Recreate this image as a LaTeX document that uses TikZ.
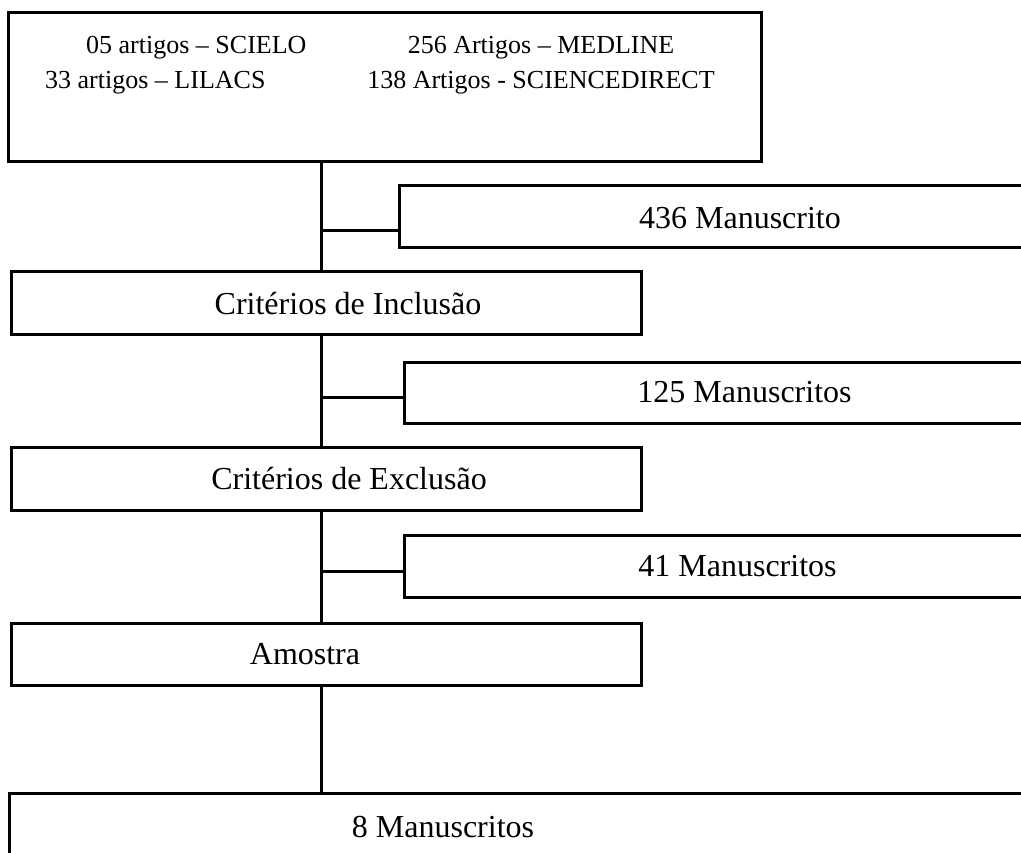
\documentclass[tikz,border=0pt]{standalone}
\usepackage{fontspec}
\setmainfont{Liberation Serif}
\usepackage{tikz}
\usetikzlibrary{positioning,calc}
\newcommand\bigtxt{\fontsize{32}{38}\selectfont}
\newcommand\srctxt{\fontsize{26}{32}\selectfont}

\begin{document}
\begin{tikzpicture}[x=1pt,y=-1pt,
  bx/.style={draw=black,line width=3pt,rectangle,inner sep=0pt,fill=white},
  lbl/.style={font=\bigtxt,inner sep=0pt},
  src/.style={font=\srctxt,inner sep=0pt},
  ln/.style={line width=3pt,draw=black}]
\useasboundingbox (0,0) rectangle (1021,853);
% spine
\node[bx,minimum width=753pt,minimum height=149pt] (busca) at (384.5,87.5) {};
\node[src,anchor=west] (scielo) at (86,48) {05 artigos -- SCIELO};
\node[src] (medline) at (541,48) {256 Artigos -- MEDLINE};
\node[src,anchor=west] (lilacs) at (45,83) {33 artigos -- LILACS};
\node[src] (scidir) at (541,83) {138 Artigos - SCIENCEDIRECT};
\node[bx,minimum width=630pt,minimum height=63pt] (inc) at (326,303.5) {};
\node[lbl] (inct) at (348,303.5) {Critérios de Inclusão};
\node[bx,minimum width=630pt,minimum height=63pt] (exc) at (326,478.5) {};
\node[lbl] (exct) at (349,478.5) {Critérios de Exclusão};
\node[bx,minimum width=630pt,minimum height=62pt] (amo) at (326,654) {};
\node[lbl] (amot) at (305,654) {Amostra};
\node[bx,minimum width=1031pt,minimum height=77pt] (m8) at (524.5,831.5) {};
\node[lbl] (m8t) at (443,827) {8 Manuscritos};
% branch
\node[bx,minimum width=641pt,minimum height=62pt] (m436) at (719.5,217) {};
\node[lbl] (m436t) at (740,218) {436 Manuscrito};
\node[bx,minimum width=636pt,minimum height=61pt] (m125) at (722,392.5) {};
\node[lbl] (m125t) at (744.5,392.5) {125 Manuscritos};
\node[bx,minimum width=636pt,minimum height=62pt] (m41) at (722,566) {};
\node[lbl] (m41t) at (737.5,566) {41 Manuscritos};
% connectors
\coordinate (tr) at (321,0);
\coordinate (j1) at (321,231);
\coordinate (j2) at (321,397);
\coordinate (j3) at (321,571);
\draw[ln] (busca.south -| tr) -- (inc.north -| tr);
\draw[ln] (inc.south -| tr) -- (exc.north -| tr);
\draw[ln] (exc.south -| tr) -- (amo.north -| tr);
\draw[ln] (amo.south -| tr) -- (m8.north -| tr);
\draw[ln] (j1) -- (j1 -| m436.west);
\draw[ln] (j2) -- (j2 -| m125.west);
\draw[ln] (j3) -- (j3 -| m41.west);
\end{tikzpicture}
\end{document}
